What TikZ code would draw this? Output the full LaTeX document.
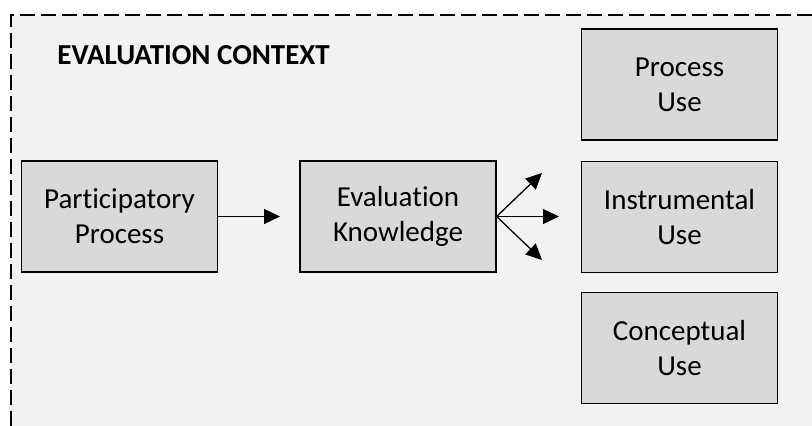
\documentclass[tikz,border=0pt]{standalone}
\usepackage{fontspec}
\setmainfont{Carlito}[Ligatures=NoCommon]
\usetikzlibrary{arrows.meta}
\definecolor{bggray}{HTML}{F2F2F2}
\definecolor{boxgray}{HTML}{D9D9D9}
\begin{document}
\begin{tikzpicture}
	[x=0.5pt, y=-0.5pt,
	box/.style ={draw, fill=boxgray, line width=0.65pt, minimum width=98pt, minimum height=55.5pt, align=center, inner sep=0pt, font=\fontsize{14.5}{17.5}\selectfont},
	arr/.style ={-{Triangle[length=8pt, width=7.5pt]}, line width=0.65pt}]
	\useasboundingbox (0,0) rectangle (812,426);
	\fill[bggray] (11,15) rectangle (812,426);
	\draw[line width=0.7pt, dash pattern=on 7.5pt off 3pt] (11,426) -- (11,15) -- (812,15);
	\node[anchor=base west, inner sep=0pt, font=\bfseries\fontsize{14.5}{17.5}\selectfont] (title) at (57,65) {EVALUATION CONTEXT};
	\node[box] (part) at (119.5,216.5) {Participatory\\Process};
	\node[box] (evk) at (398,216.5) {Evaluation\\Knowledge};
	\node[box] (puse) at (679.5,84.5) {Process\\Use};
	\node[box] (iuse) at (679.5,217) {Instrumental\\Use};
	\node[box] (cuse) at (679.5,348) {Conceptual\\Use};
	\coordinate (a0) at (280,216.5);
	\coordinate (a1) at (542,173);
	\coordinate (a2) at (559,216.5);
	\coordinate (a3) at (542,260);
	\path[arr] (part) edge (a0)
	(evk.east) edge (a1)
	edge (a2)
	edge (a3);
\end{tikzpicture}
\end{document}
